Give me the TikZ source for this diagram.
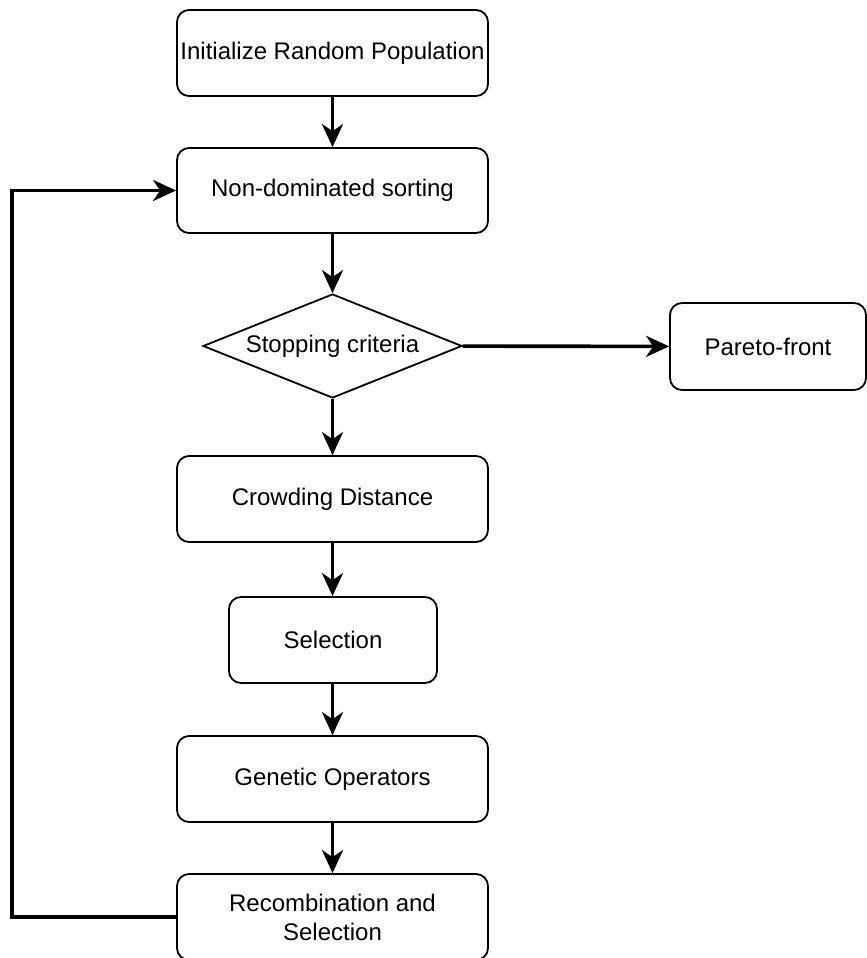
\documentclass[tikz,border=0pt]{standalone}
\usepackage{fontspec}
\setmainfont{Liberation Sans}
\usetikzlibrary{arrows.meta,shapes.geometric}
\begin{document}
\begin{tikzpicture}[x=1pt,y=-1pt,
  box/.style={draw, line width=1.8pt, rounded corners=12pt, rectangle,
    minimum width=311pt, minimum height=86pt, inner sep=0pt, align=center,
    font=\fontsize{24}{29}\selectfont},
  decision/.style={draw, line width=1.8pt, diamond, aspect=2.49,
    minimum width=259pt, minimum height=104pt, inner sep=0pt,
    font=\fontsize{24}{29}\selectfont},
  flow/.style={line width=3.6pt, -{Stealth[length=23pt,width=21pt,inset=7pt]}},
  loopline/.style={line width=3.6pt}]
\useasboundingbox (0,0) rectangle (867,958);
\node[box] (init) at (332.5,53) {Initialize Random Population};
\node[box, minimum height=85pt] (nds) at (332.5,190.5) {Non-dominated sorting};
\node[decision] (stop) at (332.5,346) {Stopping criteria};
\node[box, minimum width=196pt, minimum height=87pt] (pareto) at (768,346.5) {Pareto-front};
\node[box] (crowd) at (332.5,499) {Crowding Distance};
\node[box, minimum width=208pt] (sel) at (333,640) {Selection};
\node[box] (gen) at (332.5,779) {Genetic Operators};
\node[box, minimum height=86pt] (rec) at (332.5,917) {Recombination and\\Selection};
\coordinate (lc) at (12,500);
\draw[flow] (init) -- (nds);
\draw[flow] (nds) -- (stop);
\draw[flow] (stop) -- (pareto);
\draw[flow] (stop) -- (crowd);
\draw[flow] (crowd.south) -- (sel.north -| crowd.south);
\draw[flow] (sel.south -| gen.north) -- (gen.north);
\draw[flow] (gen) -- (rec);
\draw[flow, line join=miter] (rec.west) -- (rec.west -| lc) -- (nds.west -| lc) -- (nds.west);
\end{tikzpicture}
\end{document}
